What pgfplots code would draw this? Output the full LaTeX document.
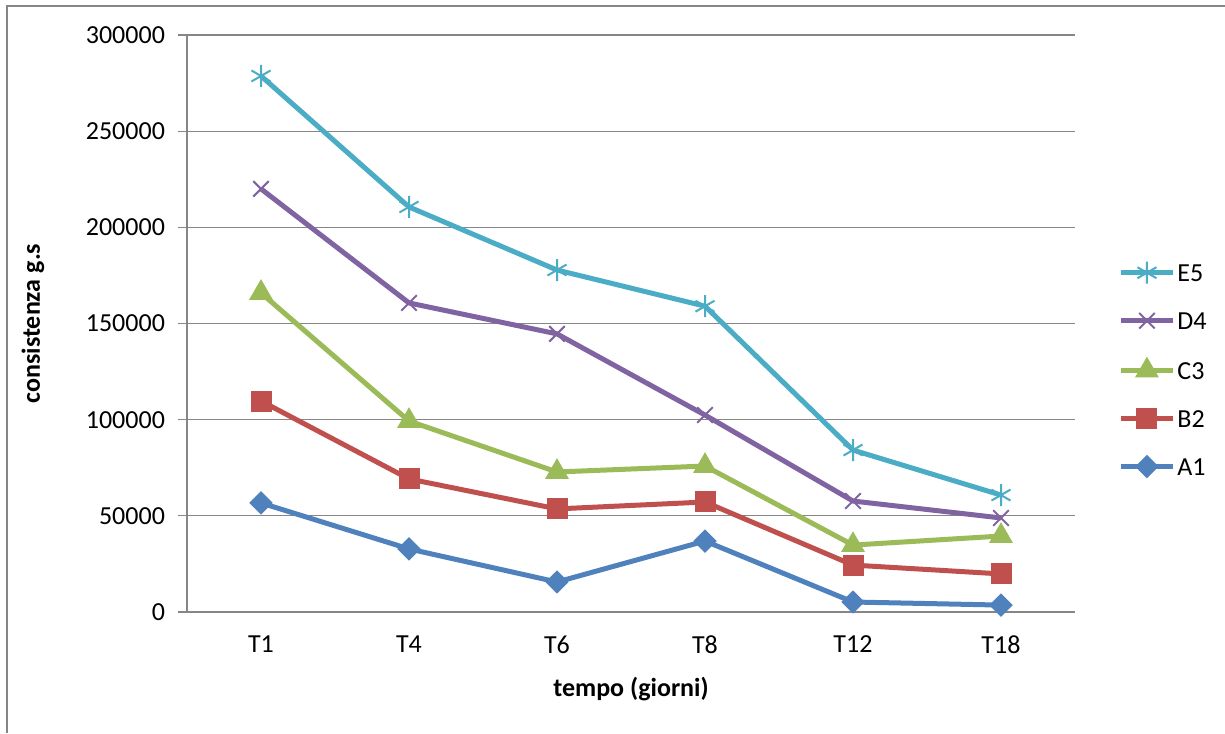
\documentclass[border=0pt]{standalone}
\usepackage{fontspec}
\setmainfont{Carlito}
\usepackage{pgfplots}
\pgfplotsset{compat=1.18}
\definecolor{cE}{HTML}{4BACC6}
\definecolor{cD}{HTML}{8064A2}
\definecolor{cC}{HTML}{9BBB59}
\definecolor{cB}{HTML}{C0504D}
\definecolor{cA}{HTML}{4F81BD}
\definecolor{gridc}{HTML}{868686}
\begin{document}
\begin{tikzpicture}[font=\fontsize{13}{15}\selectfont]
\useasboundingbox (0,0) rectangle (612.5pt,-366.5pt);
\draw[line width=1pt, color=gridc] (3.5pt,-366.5pt) -- (3.5pt,-3pt) -- (612.5pt,-3pt);
\begin{axis}[
  at={(93.5pt,-306pt)}, anchor=south west,
  scale only axis, width=444pt, height=288.5pt,
  xmin=-0.5, xmax=5.5, ymin=0, ymax=300000,
  xtick={0,...,5}, xticklabels={T1,T4,T6,T8,T12,T18},
  ytick={0,50000,...,300000},
  scaled y ticks=false,
  yticklabel={\pgfmathprintnumber[fixed, precision=0, 1000 sep={}, assume math mode=true]{\tick}},
  axis x line*=bottom, axis y line*=left,
  axis line style={-, draw=gridc, line width=0.6pt},
  ymajorgrids, major grid style={draw=gridc, line width=0.6pt},
  tick align=outside, major tick length=4.5pt,
  xtick style={draw=none}, ytick style={draw=gridc, line width=0.6pt},
  xticklabel style={yshift=-4pt},
  yticklabel style={xshift=-3pt},
  ylabel={\bfseries consistenza g.s},
  xlabel={\bfseries tempo (giorni)},
  every axis y label/.style={at={(rel axis cs:0,0.5)}, xshift=-77pt, rotate=90, anchor=center},
  every axis x label/.style={at={(rel axis cs:0.5,0)}, yshift=-38.5pt, anchor=center},
  reverse legend,
  legend cell align=left,
  legend style={at={(axis description cs:1.0417,0.42)}, anchor=west, draw=none, fill=none,
    nodes={inner sep=1pt, text height=9pt, text depth=0pt}, row sep=13pt},
  legend image code/.code={\draw[mark repeat=2, mark phase=2] plot coordinates {(0pt,0pt) (13pt,0pt) (26pt,0pt)};},
  every axis plot/.append style={line width=2.5pt},
]
\addplot[color=cA, mark=square*, mark size=3.9pt, mark options={rotate=45, line width=0.5pt}] coordinates {
 (0,56700) (1,32800) (2,15600) (3,36900) (4,5200) (5,3600)};
\addlegendentry{A1}
\addplot[color=cB, mark=square*, mark size=5pt, mark options={line width=0.5pt}] coordinates {
 (0,109700) (1,69200) (2,53600) (3,57200) (4,24400) (5,19800)};
\addlegendentry{B2}
\addplot[color=cC, mark=triangle*, mark size=6.4pt, mark options={line width=0.5pt}] coordinates {
 (0,165900) (1,99300) (2,72800) (3,75900) (4,34800) (5,39500)};
\addlegendentry{C3}
\addplot[color=cD, mark=x, mark size=5.5pt, mark options={line width=1pt}] coordinates {
 (0,220000) (1,160700) (2,144600) (3,102400) (4,57700) (5,48900)};
\addlegendentry{D4}
\addplot[color=cE, mark=asterisk, mark size=5.5pt, mark options={line width=1pt}] coordinates {
 (0,278700) (1,210600) (2,177800) (3,159000) (4,84200) (5,60800)};
\addlegendentry{E5}
\end{axis}
\end{tikzpicture}
\end{document}
